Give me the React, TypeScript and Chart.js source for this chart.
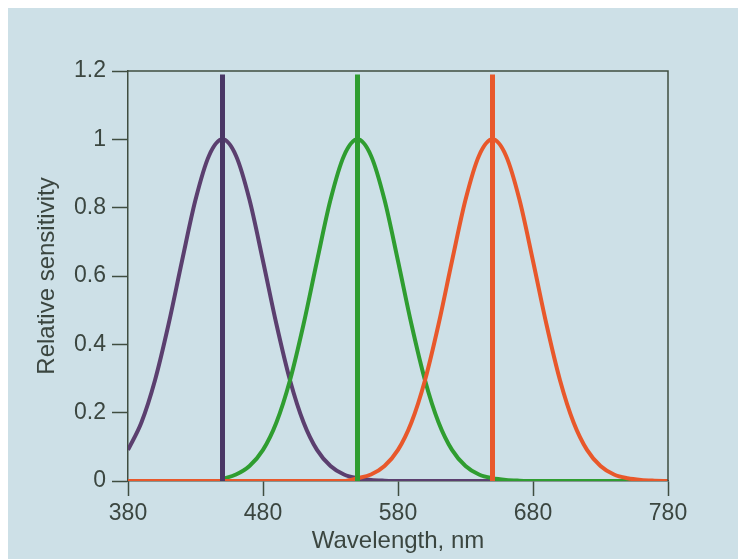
import React, { useEffect, useRef } from "react";
import { Chart, registerables } from "chart.js";

Chart.register(...registerables);

// Wavelength sampling (nm)
const wavelengths = [
  380, 390, 400, 410, 420, 430, 440, 450, 460, 470,
  480, 490, 500, 510, 520, 530, 540, 550, 560, 570,
  580, 590, 600, 610, 620, 630, 640, 650, 660, 670,
  680, 690, 700, 710, 720, 730, 740, 750, 760, 770, 780,
];

// Relative sensitivity
const blueCone = [
  0.091, 0.172, 0.295, 0.458, 0.644, 0.823, 0.952, 1.0, 0.952, 0.823,
  0.644, 0.458, 0.295, 0.172, 0.091, 0.044, 0.019, 0.008, 0.003, 0.001,
  0, 0, 0, 0, 0, 0, 0, 0, 0, 0,
  0, 0, 0, 0, 0, 0, 0, 0, 0, 0, 0,
];
const greenCone = [
  null, null, null, null, null, null, null, 0.006, 0.019, 0.044,
  0.091, 0.172, 0.295, 0.458, 0.644, 0.823, 0.952, 1.0, 0.952, 0.823,
  0.644, 0.458, 0.295, 0.172, 0.091, 0.044, 0.019, 0.008, 0.003, 0.001,
  0, 0, 0, 0, 0, 0, 0, 0, 0, 0, 0,
];
const redCone = [
  0, 0, 0, 0, 0, 0, 0, 0, 0, 0,
  0, 0, 0, 0, 0, 0, 0, 0.008, 0.019, 0.044,
  0.091, 0.172, 0.295, 0.458, 0.644, 0.823, 0.952, 1.0, 0.952, 0.823,
  0.644, 0.458, 0.295, 0.172, 0.091, 0.044, 0.019, 0.008, 0.003, 0.001, 0,
];

// Vertical peak markers
const peakWavelengths = [450, 550, 650];
const peakLineTop = 1.19;

// Axis ticks
const xTickValues = [380, 480, 580, 680, 780];
const yTickValues = [0, 0.2, 0.4, 0.6, 0.8, 1, 1.2];
const yTickLabels = ["0", "0.2", "0.4", "0.6", "0.8", "1", "1.2"];

const PURPLE = "#5b3f6f";
const PURPLE_DARK = "#4a3766";
const GREEN = "#2f9d30";
const ORANGE = "#e8582b";
const FRAME = "#3f4d40";
const TEXT = "#3b4640";
const BG = "#cde0e7";
const FONT = "'Liberation Sans', Arial, Helvetica, sans-serif";

function series(values: (number | null)[]) {
  return wavelengths.map((w, i) => ({ x: w, y: values[i] }));
}

const framePlugin = {
  id: "frame",
  afterDatasetsDraw(chart: any) {
    const { ctx, chartArea } = chart;
    ctx.save();
    ctx.strokeStyle = FRAME;
    ctx.lineWidth = 1.5;
    ctx.beginPath();
    ctx.moveTo(chartArea.left, chartArea.top);
    ctx.lineTo(chartArea.right, chartArea.top);
    ctx.lineTo(chartArea.right, chartArea.bottom);
    ctx.stroke();
    ctx.restore();
  },
};

export default function App() {
  const ref = useRef<HTMLCanvasElement | null>(null);

  useEffect(() => {
    if (!ref.current) return;
    const curve = (label: string, values: (number | null)[], color: string) => ({
      label,
      data: series(values),
      borderColor: color,
      backgroundColor: color,
      borderWidth: 4,
      pointRadius: 0,
      tension: 0.4,
      cubicInterpolationMode: "monotone" as const,
      spanGaps: false,
      fill: false,
    });
    const spikeColors = [PURPLE_DARK, GREEN, ORANGE];
    const spikes = peakWavelengths.map((w, i) => ({
      label: "peak " + w,
      data: [
        { x: w, y: 0 },
        { x: w, y: peakLineTop },
      ],
      borderColor: spikeColors[i],
      backgroundColor: spikeColors[i],
      borderWidth: 5,
      pointRadius: 0,
      tension: 0,
      fill: false,
    }));

    const chart = new Chart(ref.current, {
      type: "line",
      data: {
        datasets: [
          ...spikes,
          curve("Red", redCone, ORANGE),
          curve("Green", greenCone, GREEN),
          curve("Blue", blueCone, PURPLE),
        ],
      },
      options: {
        animation: false,
        responsive: false,
        parsing: true,
        layout: { padding: { top: 63, right: 78, left: 0, bottom: 0 } },
        plugins: {
          legend: { display: false },
          tooltip: { enabled: false },
        },
        scales: {
          x: {
            type: "linear",
            min: 380,
            max: 780,
            afterBuildTicks: (scale: any) => {
              scale.ticks = xTickValues.map((v) => ({ value: v }));
            },
            afterFit: (scale: any) => {
              scale.height = 78;
            },
            ticks: {
              color: TEXT,
              font: { family: FONT, size: 23 },
              padding: 4,
              maxRotation: 0,
              autoSkip: false,
            },
            grid: {
              drawOnChartArea: false,
              drawTicks: true,
              tickLength: 15,
              tickWidth: 1.5,
              color: FRAME,
            },
            border: { display: true, color: FRAME, width: 1.5 },
            title: {
              display: true,
              text: "Wavelength, nm",
              color: TEXT,
              font: { family: FONT, size: 24 },
              padding: { top: 0, bottom: 3 },
            },
          },
          y: {
            type: "linear",
            min: 0,
            max: 1.2,
            afterBuildTicks: (scale: any) => {
              scale.ticks = yTickValues.map((v) => ({ value: v }));
            },
            afterFit: (scale: any) => {
              scale.width = 120;
            },
            ticks: {
              color: TEXT,
              font: { family: FONT, size: 23 },
              padding: 6,
              callback: (_v: any, i: number) => yTickLabels[i],
            },
            grid: {
              drawOnChartArea: false,
              drawTicks: true,
              tickLength: 16,
              tickWidth: 1.5,
              color: FRAME,
            },
            border: { display: true, color: FRAME, width: 1.5 },
            title: {
              display: true,
              text: "Relative sensitivity",
              color: TEXT,
              font: { family: FONT, size: 24 },
              padding: { top: 25, bottom: 0 },
            },
          },
        },
      },
      plugins: [framePlugin],
    });
    return () => chart.destroy();
  }, []);

  return (
    <div style={{ width: 738, height: 551, background: BG }}>
      <canvas ref={ref} width={738} height={551} style={{ display: "block" }} />
    </div>
  );
}
